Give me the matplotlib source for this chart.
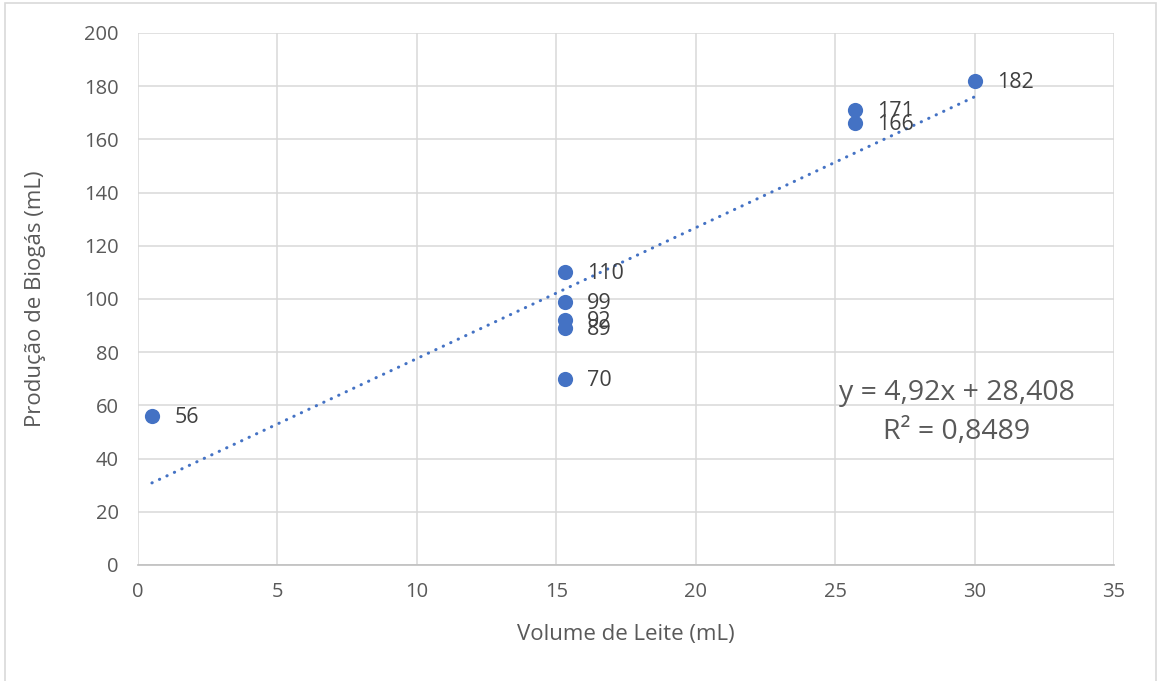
import numpy as np
import matplotlib.pyplot as plt
from matplotlib.patches import Rectangle

plt.rcParams['font.family'] = ['Open Sans', 'DejaVu Sans']

# milk volume (mL) vs biogas produced (mL)
volume = [0.5, 15.3, 15.3, 15.3, 15.3, 15.3, 25.7, 25.7, 30]
biogas = [56, 70, 89, 92, 99, 110, 166, 171, 182]

# linear trend as reported
slope = 4.92
intercept = 28.408
r2 = 0.8489

blue = '#4472C4'
grey_text = '#595959'

W, H = 1157, 681
fig = plt.figure(figsize=(W / 100, H / 100), dpi=100)
fig.patches.append(Rectangle((5 / W, -0.05), 1151 / W, 1.05 - 3 / H,
                             transform=fig.transFigure, fill=False,
                             edgecolor='#D9D9D9', linewidth=1.2))

ax = fig.add_axes([138 / W, (H - 565) / H, (1114 - 138) / W, (565 - 33) / H])

ax.scatter(volume, biogas, s=120, color=blue, zorder=3, linewidths=0)
for xv, yv in zip(volume, biogas):
    ax.annotate(str(yv), (xv, yv), xytext=(16, -1), textcoords='offset points',
                va='center', ha='left', fontsize=15.5, color='#404040', zorder=4)

xs = np.array([min(volume), max(volume)])
ax.plot(xs, slope * xs + intercept, color=blue, linewidth=2.2,
        linestyle=(0, (0.1, 2.6)), dash_capstyle='round', zorder=2)

# equation and R² of the trend, two lines
eq = 'y = {}x + {}'.format(str(slope).replace('.', ','), str(intercept).replace('.', ','))
r2_txt = 'R² = {}'.format(str(r2).replace('.', ','))
ax.text(29.35, 64.7, eq, ha='center', va='center', fontsize=20.5, color=grey_text, zorder=4)
ax.text(29.35, 50.0, r2_txt, ha='center', va='center', fontsize=20.5, color=grey_text, zorder=4)

ax.set_xlim(0, 35)
ax.set_ylim(0, 200)
ax.set_xticks(range(0, 36, 5))
ax.set_yticks(range(0, 201, 20))
ax.grid(True, color='#D9D9D9', linewidth=1.1)
ax.set_axisbelow(True)
for side in ['top', 'right', 'left']:
    ax.spines[side].set_visible(False)
ax.spines['bottom'].set_color('#BFBFBF')
ax.spines['bottom'].set_linewidth(1.2)
ax.tick_params(axis='both', length=0, labelsize=14.5, labelcolor=grey_text)
ax.tick_params(axis='y', pad=14)
ax.tick_params(axis='x', pad=12)

ax.set_xlabel('Volume de Leite (mL)', fontsize=16, color=grey_text, labelpad=16)
ax.set_ylabel('Produção de Biogás (mL)', fontsize=16, color=grey_text, labelpad=27)

fig.savefig('out.png', dpi=100)
